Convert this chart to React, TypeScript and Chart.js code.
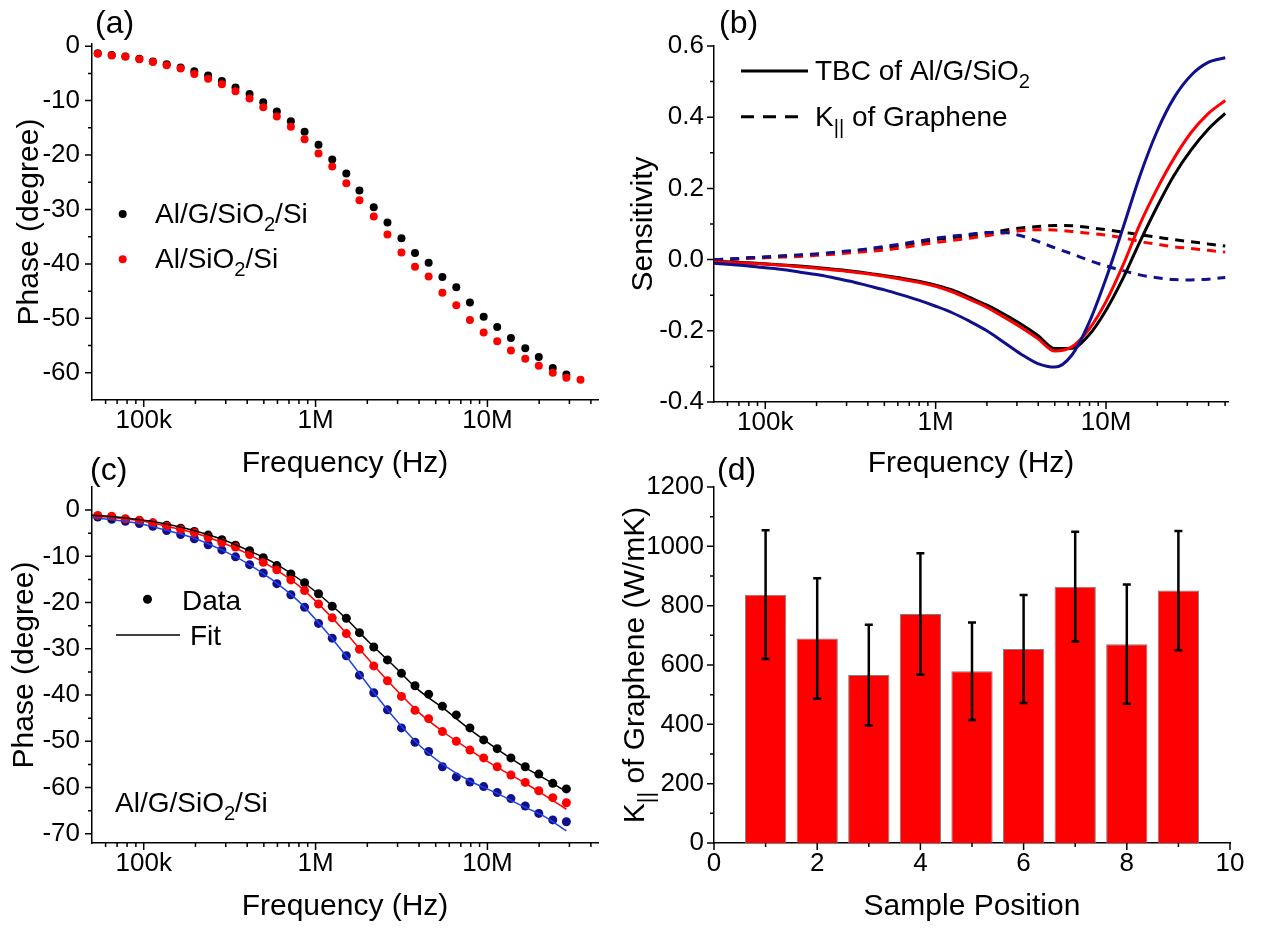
import React, { useEffect, useRef } from "react";
import { Chart, registerables } from "chart.js";
Chart.register(...registerables);

const FONT = '"Liberation Sans", Arial, Helvetica, sans-serif';
const TICK_SIZE = 26;
const TITLE_SIZE = 30;
const LEGEND_SIZE = 28;
const PANEL_SIZE = 32;
const NAVY = "#10108c";
const FIT_BLUE = "#2040e8";

// ---------- shared frequency grid of the measured points (Hz) ----------
const FREQ = [54.0e3, 65.1e3, 78.2e3, 94.3e3, 113e3, 136e3, 164e3, 197e3, 237e3, 285e3, 342e3, 413e3, 496e3, 595e3, 718e3, 863e3, 1.04e6, 1.25e6, 1.51e6, 1.8e6, 2.18e6, 2.62e6, 3.16e6, 3.79e6, 4.55e6, 5.47e6, 6.59e6, 7.91e6, 9.51e6, 11.4e6, 13.7e6, 16.6e6, 19.9e6, 24.0e6, 28.8e6, 34.8e6];

// ---------- panel (a) ----------
const PHASE_AL_G = [-1.3, -1.6, -1.9, -2.3, -2.8, -3.3, -3.9, -4.6, -5.4, -6.4, -7.6, -8.8, -10.3, -12.0, -13.8, -15.7, -18.1, -20.8, -23.4, -26.5, -29.6, -32.4, -35.3, -38.0, -39.8, -42.4, -44.3, -47.1, -49.7, -51.6, -53.6, -55.5, -57.1, -59.1, -60.3];
const PHASE_AL = [-1.4, -1.7, -1.9, -2.4, -2.9, -3.5, -4.1, -5.1, -6.0, -7.0, -8.3, -9.6, -11.2, -12.9, -14.8, -17.1, -19.7, -22.1, -25.2, -28.3, -31.3, -34.6, -37.9, -40.5, -42.3, -45.3, -47.6, -50.3, -52.6, -54.2, -55.9, -57.4, -58.7, -60.0, -60.9, -61.3];

// ---------- panel (b) ----------
const F_B = [50.1e3, 63.1e3, 79.4e3, 100e3, 126e3, 158e3, 200e3, 251e3, 316e3, 398e3, 501e3, 631e3, 794e3, 1e6, 1.26e6, 1.58e6, 2e6, 2.51e6, 3.16e6, 3.98e6, 5.01e6, 6.31e6, 7.94e6, 10e6, 12.6e6, 15.8e6, 20e6, 25.1e6, 31.6e6, 39.8e6, 50.1e6];
const TBC_BLACK = [-0.005, -0.007, -0.009, -0.012, -0.015, -0.018, -0.022, -0.027, -0.032, -0.038, -0.045, -0.052, -0.061, -0.072, -0.086, -0.106, -0.128, -0.153, -0.181, -0.213, -0.25, -0.249, -0.212, -0.142, -0.052, 0.05, 0.15, 0.237, 0.308, 0.366, 0.411];
const TBC_RED = [-0.006, -0.008, -0.01, -0.013, -0.016, -0.02, -0.024, -0.029, -0.034, -0.04, -0.047, -0.055, -0.064, -0.075, -0.091, -0.112, -0.134, -0.161, -0.19, -0.222, -0.257, -0.245, -0.196, -0.118, -0.015, 0.099, 0.2, 0.285, 0.357, 0.41, 0.447];
const TBC_BLUE = [-0.01, -0.014, -0.018, -0.023, -0.028, -0.035, -0.042, -0.051, -0.061, -0.073, -0.085, -0.099, -0.114, -0.131, -0.15, -0.173, -0.2, -0.232, -0.265, -0.292, -0.302, -0.268, -0.178, -0.053, 0.09, 0.235, 0.362, 0.455, 0.518, 0.554, 0.567];
const KG_BLACK = [0.0, 0.002, 0.005, 0.007, 0.01, 0.012, 0.015, 0.019, 0.023, 0.028, 0.033, 0.04, 0.048, 0.056, 0.062, 0.067, 0.074, 0.082, 0.089, 0.093, 0.096, 0.095, 0.09, 0.084, 0.077, 0.07, 0.063, 0.056, 0.05, 0.044, 0.038];
const KG_RED = [0.0, 0.001, 0.003, 0.005, 0.007, 0.009, 0.012, 0.015, 0.019, 0.023, 0.027, 0.033, 0.041, 0.048, 0.054, 0.06, 0.067, 0.075, 0.081, 0.084, 0.083, 0.079, 0.074, 0.069, 0.061, 0.051, 0.043, 0.036, 0.031, 0.026, 0.021];
const KG_BLUE = [0.0, 0.002, 0.005, 0.007, 0.01, 0.013, 0.016, 0.02, 0.025, 0.03, 0.037, 0.044, 0.052, 0.06, 0.066, 0.071, 0.076, 0.076, 0.067, 0.051, 0.033, 0.016, -0.002, -0.018, -0.031, -0.043, -0.051, -0.056, -0.057, -0.055, -0.05];

// ---------- panel (c) ----------
const PHASE_C_RED = [-1.15, -1.3, -1.9, -2.2, -2.75, -3.5, -4.2, -4.9, -6.0, -7.0, -8.0, -9.6, -11.3, -12.9, -15.1, -17.4, -20.3, -23.3, -26.7, -30.1, -33.7, -36.9, -40.3, -43.3, -45.1, -47.9, -50.0, -51.9, -53.6, -55.5, -57.3, -58.9, -60.7, -62.2, -63.3];
const PHASE_C_BLUE = [-1.5, -2.0, -2.4, -2.9, -3.5, -4.4, -5.3, -6.2, -7.5, -8.6, -10.1, -11.8, -13.6, -15.9, -18.3, -21.0, -24.5, -27.7, -31.5, -35.7, -39.5, -43.2, -47.1, -50.2, -52.2, -55.5, -57.7, -58.8, -59.8, -61.1, -62.4, -64.0, -65.6, -67.0, -67.4];
const FIT_FREQ = [50e3, 70e3, 100e3, 140e3, 200e3, 280e3, 400e3, 560e3, 800e3, 1.1e6, 1.5e6, 2e6, 2.8e6, 4e6, 5.6e6, 8e6, 11e6, 16e6, 22e6, 28.8e6];
const FIT_G = [-1.1, -1.5, -2.2, -3.1, -4.5, -6.2, -8.6, -11.2, -14.9, -18.9, -23.4, -28.2, -33.4, -39.0, -43.0, -47.6, -51.3, -55.3, -58.3, -60.9];
const FIT_RED = [-1.2, -1.7, -2.4, -3.6, -5.0, -6.9, -9.4, -12.4, -16.4, -21.2, -26.5, -32.0, -38.0, -43.8, -48.1, -52.0, -55.3, -58.7, -61.9, -64.7];
const FIT_BLUE_V = [-1.6, -2.2, -3.1, -4.5, -6.2, -8.5, -11.5, -15.1, -19.8, -25.4, -31.5, -37.6, -44.5, -50.8, -55.2, -58.7, -61.0, -64.0, -66.5, -69.4];

// ---------- panel (d) ----------
const POSITIONS = [1, 2, 3, 4, 5, 6, 7, 8, 9];
const K_VALUES = [837, 689, 566, 772, 579, 654, 864, 670, 851];
const K_ERR = [217, 203, 170, 205, 164, 182, 185, 201, 201];

// ---------- ticks ----------
const FREQ_TICKS = [1e5, 1e6, 1e7];
const FREQ_TICK_LABELS = ["100k", "1M", "10M"];
const FREQ_MINOR_AC = [6e4, 7e4, 8e4, 9e4, 2e5, 3e5, 4e5, 5e5, 6e5, 7e5, 8e5, 9e5, 2e6, 3e6, 4e6, 5e6, 6e6, 7e6, 8e6, 9e6, 2e7, 3e7, 4e7];
const FREQ_MINOR_B = [6e4, 7e4, 8e4, 9e4, 2e5, 3e5, 4e5, 5e5, 6e5, 7e5, 8e5, 9e5, 2e6, 3e6, 4e6, 5e6, 6e6, 7e6, 8e6, 9e6, 2e7, 3e7, 4e7, 5e7];
const A_YTICKS = [0, -10, -20, -30, -40, -50, -60];
const A_YMINOR = [-5, -15, -25, -35, -45, -55];
const B_YTICKS = [-0.4, -0.2, 0, 0.2, 0.4, 0.6];
const B_YMINOR = [-0.3, -0.1, 0.1, 0.3, 0.5];
const C_YTICKS = [0, -10, -20, -30, -40, -50, -60, -70];
const C_YMINOR = [-5, -15, -25, -35, -45, -55, -65];
const D_XTICKS = [0, 2, 4, 6, 8, 10];
const D_XMINOR = [1, 3, 5, 7, 9];
const D_YTICKS = [0, 200, 400, 600, 800, 1000, 1200];
const D_YMINOR = [100, 300, 500, 700, 900, 1100];

type Seg = { t: string; sub?: boolean };
const SUB_SCALE = 0.72;

function drawRich(ctx: CanvasRenderingContext2D, segs: Seg[], x: number, y: number, size: number, align: "left" | "center" = "left") {
  let w = 0;
  for (const s of segs) {
    ctx.font = `${s.sub ? size * SUB_SCALE : size}px ${FONT}`;
    w += ctx.measureText(s.t).width;
  }
  let cx = align === "center" ? x - w / 2 : x;
  ctx.fillStyle = "#000";
  ctx.textAlign = "left";
  ctx.textBaseline = "alphabetic";
  for (const s of segs) {
    const fs = s.sub ? size * SUB_SCALE : size;
    ctx.font = `${fs}px ${FONT}`;
    ctx.fillText(s.t, cx, s.sub ? y + size * 0.3 : y);
    cx += ctx.measureText(s.t).width;
  }
}

function pts(xs: number[], ys: number[]) {
  return ys.map((v, i) => ({ x: xs[i], y: v }));
}

function ticksPlugin(xMajor: number[], xMinor: number[], yMajor: number[], yMinor: number[]) {
  return {
    id: "axisTicks",
    afterDraw(chart: any) {
      const { ctx, chartArea: a } = chart;
      const xs = chart.scales.x;
      const ys = chart.scales.y;
      ctx.save();
      ctx.strokeStyle = "#000";
      ctx.lineWidth = 1.5;
      ctx.beginPath();
      const seg = (x1: number, y1: number, x2: number, y2: number) => {
        ctx.moveTo(x1, y1);
        ctx.lineTo(x2, y2);
      };
      xMajor.forEach((v) => { const p = xs.getPixelForValue(v); seg(p, a.bottom, p, a.bottom + 7); });
      xMinor.forEach((v) => { const p = xs.getPixelForValue(v); seg(p, a.bottom, p, a.bottom + 4); });
      yMajor.forEach((v) => { const p = ys.getPixelForValue(v); seg(a.left, p, a.left - 7, p); });
      yMinor.forEach((v) => { const p = ys.getPixelForValue(v); seg(a.left, p, a.left - 4, p); });
      ctx.stroke();
      ctx.restore();
    },
  };
}

function annotPlugin(offX: number, offY: number, draw: (ctx: CanvasRenderingContext2D) => void) {
  return {
    id: "annot",
    afterDraw(chart: any) {
      const ctx = chart.ctx as CanvasRenderingContext2D;
      ctx.save();
      ctx.translate(-offX, -offY);
      draw(ctx);
      ctx.restore();
    },
  };
}

const tickFont = { family: FONT, size: TICK_SIZE };
const titleFont = { family: FONT, size: TITLE_SIZE };

function xAxis(o: { type: string; min: number; max: number; ticks: number[]; labels: string[]; height: number; title: string; titlePad: number }) {
  return {
    type: o.type,
    min: o.min,
    max: o.max,
    offset: false,
    grid: { display: false, drawTicks: false },
    border: { display: true, color: "#000", width: 1.5 },
    ticks: { font: tickFont, color: "#000", padding: 5, autoSkip: false, maxRotation: 0, minRotation: 0, callback: (_v: any, i: number) => o.labels[i] },
    afterBuildTicks: (s: any) => { s.ticks = o.ticks.map((v) => ({ value: v })); },
    afterFit: (s: any) => { s.height = o.height; },
    title: { display: true, text: o.title, font: titleFont, color: "#000", padding: { top: 0, bottom: o.titlePad } },
  };
}

function yAxis(o: { min: number; max: number; ticks: number[]; labels: string[]; width: number; title?: string; titlePad: number; pad?: number }) {
  return {
    type: "linear",
    min: o.min,
    max: o.max,
    grid: { display: false, drawTicks: false },
    border: { display: true, color: "#000", width: 1.5 },
    ticks: { font: tickFont, color: "#000", padding: o.pad ?? 12, autoSkip: false, callback: (_v: any, i: number) => o.labels[i] },
    afterBuildTicks: (s: any) => { s.ticks = o.ticks.map((v) => ({ value: v })); },
    afterFit: (s: any) => { s.width = o.width; },
    title: o.title
      ? { display: true, text: o.title, font: titleFont, color: "#000", padding: { top: o.titlePad, bottom: 0 } }
      : { display: false },
  };
}

const commonOpts = {
  animation: false,
  responsive: false,
  events: [],
  plugins: { legend: { display: false }, tooltip: { enabled: false }, title: { display: false } },
};

function dot(ctx: CanvasRenderingContext2D, x: number, y: number, r: number, color: string) {
  ctx.beginPath();
  ctx.fillStyle = color;
  ctx.arc(x, y, r, 0, Math.PI * 2);
  ctx.fill();
}

function configA() {
  return {
    type: "scatter",
    data: {
      datasets: [
        { data: pts(FREQ, PHASE_AL), backgroundColor: "#ff0000", pointRadius: 4, pointBorderWidth: 0, order: 0 },
        { data: pts(FREQ, PHASE_AL_G), backgroundColor: "#000000", pointRadius: 4, pointBorderWidth: 0, order: 1 },
      ],
    },
    options: {
      ...commonOpts,
      layout: { padding: { left: 0, top: 44, right: 32, bottom: 0 } },
      scales: {
        x: xAxis({ type: "logarithmic", min: 50e3, max: 44e6, ticks: FREQ_TICKS, labels: FREQ_TICK_LABELS, height: 82, title: "Frequency (Hz)", titlePad: 0 }),
        y: yAxis({ min: -65, max: 0.4, ticks: A_YTICKS, labels: A_YTICKS.map(String), width: 92, title: "Phase (degree)", titlePad: 12 }),
      },
    },
    plugins: [
      ticksPlugin(FREQ_TICKS, FREQ_MINOR_AC, A_YTICKS, A_YMINOR),
      annotPlugin(0, 0, (ctx) => {
        drawRich(ctx, [{ t: "(a)" }], 95, 33, PANEL_SIZE);
        dot(ctx, 122.7, 214, 4, "#000");
        drawRich(ctx, [{ t: "Al/G/SiO" }, { t: "2", sub: true }, { t: "/Si" }], 155, 223, LEGEND_SIZE);
        dot(ctx, 122.7, 259.3, 4, "#ff0000");
        drawRich(ctx, [{ t: "Al/SiO" }, { t: "2", sub: true }, { t: "/Si" }], 155, 268, LEGEND_SIZE);
      }),
    ],
  };
}

function lineDs(xs: number[], ys: number[], color: string, dashed: boolean, order: number, width = 3) {
  return {
    data: pts(xs, ys),
    showLine: true,
    borderColor: color,
    backgroundColor: color,
    borderWidth: width,
    borderDash: dashed ? [9, 7] : [],
    pointRadius: 0,
    cubicInterpolationMode: "monotone",
    order,
  };
}

function configB() {
  return {
    type: "scatter",
    data: {
      datasets: [
        lineDs(F_B, TBC_BLUE, NAVY, false, 0),
        lineDs(F_B, TBC_RED, "#ff0000", false, 1),
        lineDs(F_B, TBC_BLACK, "#000000", false, 2),
        lineDs(F_B, KG_BLUE, NAVY, true, 3),
        lineDs(F_B, KG_RED, "#ff0000", true, 4),
        lineDs(F_B, KG_BLACK, "#000000", true, 5),
      ],
    },
    options: {
      ...commonOpts,
      layout: { padding: { left: 0, top: 46, right: 36, bottom: 0 } },
      scales: {
        x: xAxis({ type: "logarithmic", min: 50e3, max: 52e6, ticks: FREQ_TICKS, labels: FREQ_TICK_LABELS, height: 80, title: "Frequency (Hz)", titlePad: 0 }),
        y: yAxis({ min: -0.4, max: 0.6, ticks: B_YTICKS, labels: B_YTICKS.map((v) => v.toFixed(1)), width: 88, title: "Sensitivity", titlePad: 0, pad: 10 }),
      },
    },
    plugins: [
      ticksPlugin(FREQ_TICKS, FREQ_MINOR_B, B_YTICKS, B_YMINOR),
      annotPlugin(626, 0, (ctx) => {
        drawRich(ctx, [{ t: "(b)" }], 719, 33, PANEL_SIZE);
        ctx.strokeStyle = "#000";
        ctx.lineWidth = 3;
        ctx.beginPath();
        ctx.moveTo(741, 71);
        ctx.lineTo(808, 71);
        ctx.stroke();
        drawRich(ctx, [{ t: "TBC of Al/G/SiO" }, { t: "2", sub: true }], 815, 80, LEGEND_SIZE);
        ctx.setLineDash([13, 9]);
        ctx.beginPath();
        ctx.moveTo(741, 116.7);
        ctx.lineTo(801, 116.7);
        ctx.stroke();
        ctx.setLineDash([]);
        drawRich(ctx, [{ t: "K" }, { t: "||", sub: true }, { t: " of Graphene" }], 815, 126, LEGEND_SIZE);
      }),
    ],
  };
}

function configC() {
  return {
    type: "scatter",
    data: {
      datasets: [
        lineDs(FIT_FREQ, FIT_G, "#000000", false, 0, 1.5),
        lineDs(FIT_FREQ, FIT_RED, "#ff0000", false, 1, 1.5),
        lineDs(FIT_FREQ, FIT_BLUE_V, FIT_BLUE, false, 2, 1.5),
        { data: pts(FREQ, PHASE_C_RED), backgroundColor: "#ff0000", pointRadius: 4.5, pointBorderWidth: 0, order: 3 },
        { data: pts(FREQ, PHASE_AL_G), backgroundColor: "#000000", pointRadius: 4.5, pointBorderWidth: 0, order: 4 },
        { data: pts(FREQ, PHASE_C_BLUE), backgroundColor: NAVY, pointRadius: 4.5, pointBorderWidth: 0, order: 5 },
      ],
    },
    options: {
      ...commonOpts,
      layout: { padding: { left: 0, top: 47, right: 32, bottom: 0 } },
      scales: {
        x: xAxis({ type: "logarithmic", min: 50e3, max: 44e6, ticks: FREQ_TICKS, labels: FREQ_TICK_LABELS, height: 85, title: "Frequency (Hz)", titlePad: 3 }),
        y: yAxis({ min: -72, max: 5, ticks: C_YTICKS, labels: C_YTICKS.map(String), width: 92, title: "Phase (degree)", titlePad: 7 }),
      },
    },
    plugins: [
      ticksPlugin(FREQ_TICKS, FREQ_MINOR_AC, C_YTICKS, C_YMINOR),
      annotPlugin(0, 440, (ctx) => {
        drawRich(ctx, [{ t: "(c)" }], 90, 480, PANEL_SIZE);
        dot(ctx, 147.5, 599.3, 4.5, "#000");
        drawRich(ctx, [{ t: "Data" }], 182, 609.5, LEGEND_SIZE);
        ctx.strokeStyle = "#000";
        ctx.lineWidth = 1.5;
        ctx.beginPath();
        ctx.moveTo(116, 635);
        ctx.lineTo(180, 635);
        ctx.stroke();
        drawRich(ctx, [{ t: "Fit" }], 190, 645, LEGEND_SIZE);
        drawRich(ctx, [{ t: "Al/G/SiO" }, { t: "2", sub: true }, { t: "/Si" }], 115, 811.7, LEGEND_SIZE);
      }),
    ],
  };
}

function configD() {
  return {
    type: "bar",
    data: {
      datasets: [
        {
          data: pts(POSITIONS, K_VALUES),
          backgroundColor: "#ff0000",
          borderColor: "#7f7f7f",
          borderWidth: 1,
          categoryPercentage: 1,
          barPercentage: 0.8,
        },
      ],
    },
    options: {
      ...commonOpts,
      layout: { padding: { left: 0, top: 47, right: 34, bottom: 0 } },
      scales: {
        x: xAxis({ type: "linear", min: 0, max: 10, ticks: D_XTICKS, labels: D_XTICKS.map(String), height: 85, title: "Sample Position", titlePad: 3 }),
        y: yAxis({ min: 0, max: 1200, ticks: D_YTICKS, labels: D_YTICKS.map(String), width: 114, titlePad: 0, pad: 10 }),
      },
    },
    plugins: [
      ticksPlugin(D_XTICKS, D_XMINOR, D_YTICKS, D_YMINOR),
      {
        id: "errorBars",
        afterDatasetsDraw(chart: any) {
          const { ctx } = chart;
          const xs = chart.scales.x;
          const ys = chart.scales.y;
          ctx.save();
          ctx.strokeStyle = "#000";
          ctx.lineWidth = 2.5;
          ctx.beginPath();
          POSITIONS.forEach((p, i) => {
            const x = xs.getPixelForValue(p);
            const t = ys.getPixelForValue(K_VALUES[i] + K_ERR[i]);
            const b = ys.getPixelForValue(K_VALUES[i] - K_ERR[i]);
            ctx.moveTo(x, t);
            ctx.lineTo(x, b);
            ctx.moveTo(x - 4, t);
            ctx.lineTo(x + 4, t);
            ctx.moveTo(x - 4, b);
            ctx.lineTo(x + 4, b);
          });
          ctx.stroke();
          ctx.restore();
        },
      },
      annotPlugin(600, 440, (ctx) => {
        drawRich(ctx, [{ t: "(d)" }], 717, 480, PANEL_SIZE);
        ctx.save();
        ctx.translate(633, 665);
        ctx.rotate(-Math.PI / 2);
        drawRich(ctx, [{ t: "K" }, { t: "||", sub: true }, { t: " of Graphene (W/mK)" }], 0, 10.7, TITLE_SIZE, "center");
        ctx.restore();
      }),
    ],
  };
}

function Panel(props: { left: number; top: number; width: number; height: number; make: () => any }) {
  const ref = useRef<HTMLCanvasElement | null>(null);
  useEffect(() => {
    const chart = new Chart(ref.current as HTMLCanvasElement, props.make());
    return () => chart.destroy();
  }, []);
  return (
    <canvas
      ref={ref}
      width={props.width}
      height={props.height}
      style={{ position: "absolute", left: props.left, top: props.top, width: props.width, height: props.height }}
    />
  );
}

export default function App() {
  return (
    <div style={{ position: "absolute", left: 0, top: 0, width: 1264, height: 928, background: "#fff", overflow: "hidden" }}>
      <Panel left={0} top={0} width={630} height={482} make={configA} />
      <Panel left={626} top={0} width={638} height={482} make={configB} />
      <Panel left={0} top={440} width={630} height={488} make={configC} />
      <Panel left={600} top={440} width={664} height={488} make={configD} />
    </div>
  );
}
